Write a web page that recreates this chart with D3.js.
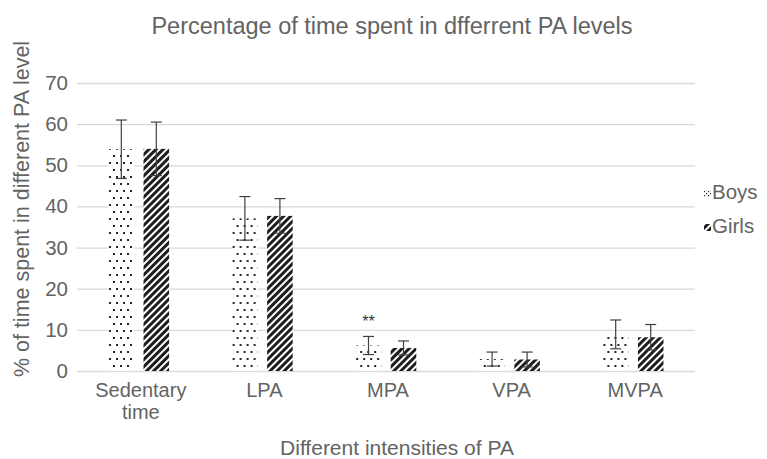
<!DOCTYPE html>
<html><head><meta charset="utf-8">
<script src="https://cdn.jsdelivr.net/npm/d3@7"></script>
<style>body{margin:0;background:#fff;} svg text{font-family:"Liberation Sans",Arial,sans-serif;}</style>
</head><body>
<svg id="c" width="767" height="459"></svg>
<script>
const categories = ["Sedentary time", "LPA", "MPA", "VPA", "MVPA"];
const seriesNames = ["Boys", "Girls"];
const boys = [53.9, 37.1, 6.2, 2.9, 8.9];
const boysSD = [7.1, 5.3, 2.2, 1.7, 3.5];
const girls = [54.0, 37.7, 5.6, 2.8, 8.2];
const girlsSD = [6.5, 4.2, 1.7, 1.8, 3.1];
const yTicks = [0, 10, 20, 30, 40, 50, 60, 70];
const annotations = [{cat: "MPA", series: "Boys", text: "**"}];

const svg = d3.select("#c");
const W = 767, H = 459;
const m = {left: 77, right: 72, top: 83, bottom: 88};
const x0 = d3.scaleBand().domain(categories).range([m.left, W - m.right]).paddingInner(0).paddingOuter(0);
const x1 = d3.scaleBand().domain(seriesNames).range([0, x0.bandwidth()]).paddingInner(0.27).paddingOuter(0.9);
const y = d3.scaleLinear().domain([0, 70]).range([H - m.bottom, m.top]);
const grey = "#636363";

const defs = svg.append("defs");
function dotPattern(id, w, h, pts, s) {
  const p = defs.append("pattern").attr("id", id).attr("patternUnits", "userSpaceOnUse").attr("width", w).attr("height", h);
  p.append("rect").attr("width", w).attr("height", h).attr("fill", "#fff");
  pts.forEach(([px, py]) => p.append("rect").attr("x", px).attr("y", py).attr("width", s).attr("height", s).attr("fill", "#262626"));
}
dotPattern("dots", 7, 14, [[1, 1], [4, 8]], 2);
dotPattern("dotsLegend", 4, 4, [[0, 0], [2, 2]], 1.2);
const ps = defs.append("pattern").attr("id", "stripes").attr("patternUnits", "userSpaceOnUse").attr("width", 5).attr("height", 5).attr("patternTransform", "rotate(45)");
ps.append("rect").attr("width", 5).attr("height", 5).attr("fill", "#fff");
ps.append("rect").attr("x", 0).attr("width", 3).attr("height", 5).attr("fill", "#1e1e1e");
const fills = {Boys: "url(#dots)", Girls: "url(#stripes)"};
const legendFills = {Boys: "url(#dotsLegend)", Girls: "url(#stripes)"};

// gridlines
svg.append("g").selectAll("line").data(yTicks).join("line")
  .attr("x1", m.left).attr("x2", W - m.right)
  .attr("y1", d => y(d) + 0.5).attr("y2", d => y(d) + 0.5)
  .attr("stroke", "#d9d9d9").attr("stroke-width", 1.3);

// y axis labels
const yAxis = d3.axisLeft(y).tickValues(yTicks).tickSize(0).tickPadding(9);
const gy = svg.append("g").attr("transform", `translate(${m.left},0)`).call(yAxis);
gy.select(".domain").remove();
gy.selectAll("text").attr("fill", grey).style("font-size", "20.5px").style("font-family", "Liberation Sans, Arial, sans-serif");

// bars
const data = categories.map((c, i) => ({cat: c, vals: [
  {s: "Boys", v: boys[i], sd: boysSD[i]},
  {s: "Girls", v: girls[i], sd: girlsSD[i]}]}));
const g = svg.append("g").selectAll("g").data(data).join("g").attr("transform", d => `translate(${x0(d.cat)},0)`);
g.selectAll("rect").data(d => d.vals).join("rect")
  .attr("x", d => x1(d.s)).attr("width", x1.bandwidth())
  .attr("y", d => y(d.v)).attr("height", d => y(0) - y(d.v))
  .attr("fill", d => fills[d.s]);
// error bars
const eb = g.selectAll("g.eb").data(d => d.vals).join("g").attr("class", "eb");
eb.append("line").attr("x1", d => x1(d.s) + x1.bandwidth()/2).attr("x2", d => x1(d.s) + x1.bandwidth()/2)
  .attr("y1", d => y(d.v + d.sd)).attr("y2", d => y(d.v - d.sd)).attr("stroke", "#404040").attr("stroke-width", 1.2);
eb.selectAll("line.cap").data(d => [{s: d.s, v: d.v + d.sd}, {s: d.s, v: d.v - d.sd}]).join("line").attr("class", "cap")
  .attr("x1", d => x1(d.s) + x1.bandwidth()/2 - 5.5).attr("x2", d => x1(d.s) + x1.bandwidth()/2 + 5.5)
  .attr("y1", d => y(d.v)).attr("y2", d => y(d.v)).attr("stroke", "#404040").attr("stroke-width", 1.2);

// annotation
annotations.forEach(a => {
  const i = categories.indexOf(a.cat);
  const v = (a.series === "Boys" ? boys[i] + boysSD[i] : girls[i] + girlsSD[i]);
  svg.append("text").attr("x", x0(a.cat) + x1(a.series) + x1.bandwidth()/2).attr("y", y(v) - 9)
    .attr("text-anchor", "middle").attr("fill", "#333").style("font-size", "16px").text(a.text);
});

// x labels
const xl = svg.append("g").selectAll("text").data(categories).join("text")
  .attr("x", d => x0(d) + x0.bandwidth()/2 + 2).attr("y", 397)
  .attr("text-anchor", "middle").attr("fill", grey).style("font-size", "20px");
xl.each(function(d) {
  const words = d.split(" ");
  const t = d3.select(this);
  words.forEach((w, k) => t.append("tspan").attr("x", x0(d) + x0.bandwidth()/2 + 2).attr("dy", k === 0 ? 0 : 22).text(w));
});

// titles
svg.append("text").attr("x", 392).attr("y", 34).attr("text-anchor", "middle").attr("fill", grey)
  .style("font-size", "23.5px").text("Percentage of time spent in dfferrent PA levels");
svg.append("text").attr("x", 397).attr("y", 455).attr("text-anchor", "middle").attr("fill", grey)
  .style("font-size", "21px").text("Different intensities of PA");
svg.append("text").attr("transform", `translate(29,${209}) rotate(-90)`).attr("text-anchor", "middle").attr("fill", grey)
  .style("font-size", "21.5px").text("% of time spent in different PA level");

// legend
const lg = svg.append("g").selectAll("g").data(seriesNames).join("g")
  .attr("transform", (d, i) => `translate(704,${199 + i * 34})`);
lg.append("rect").attr("x", 0).attr("y", -9).attr("width", 7).attr("height", 7).attr("fill", d => legendFills[d]);
lg.append("text").attr("x", 8).attr("y", 0).attr("fill", grey).style("font-size", "20.5px").text(d => d);
</script>
</body></html>
